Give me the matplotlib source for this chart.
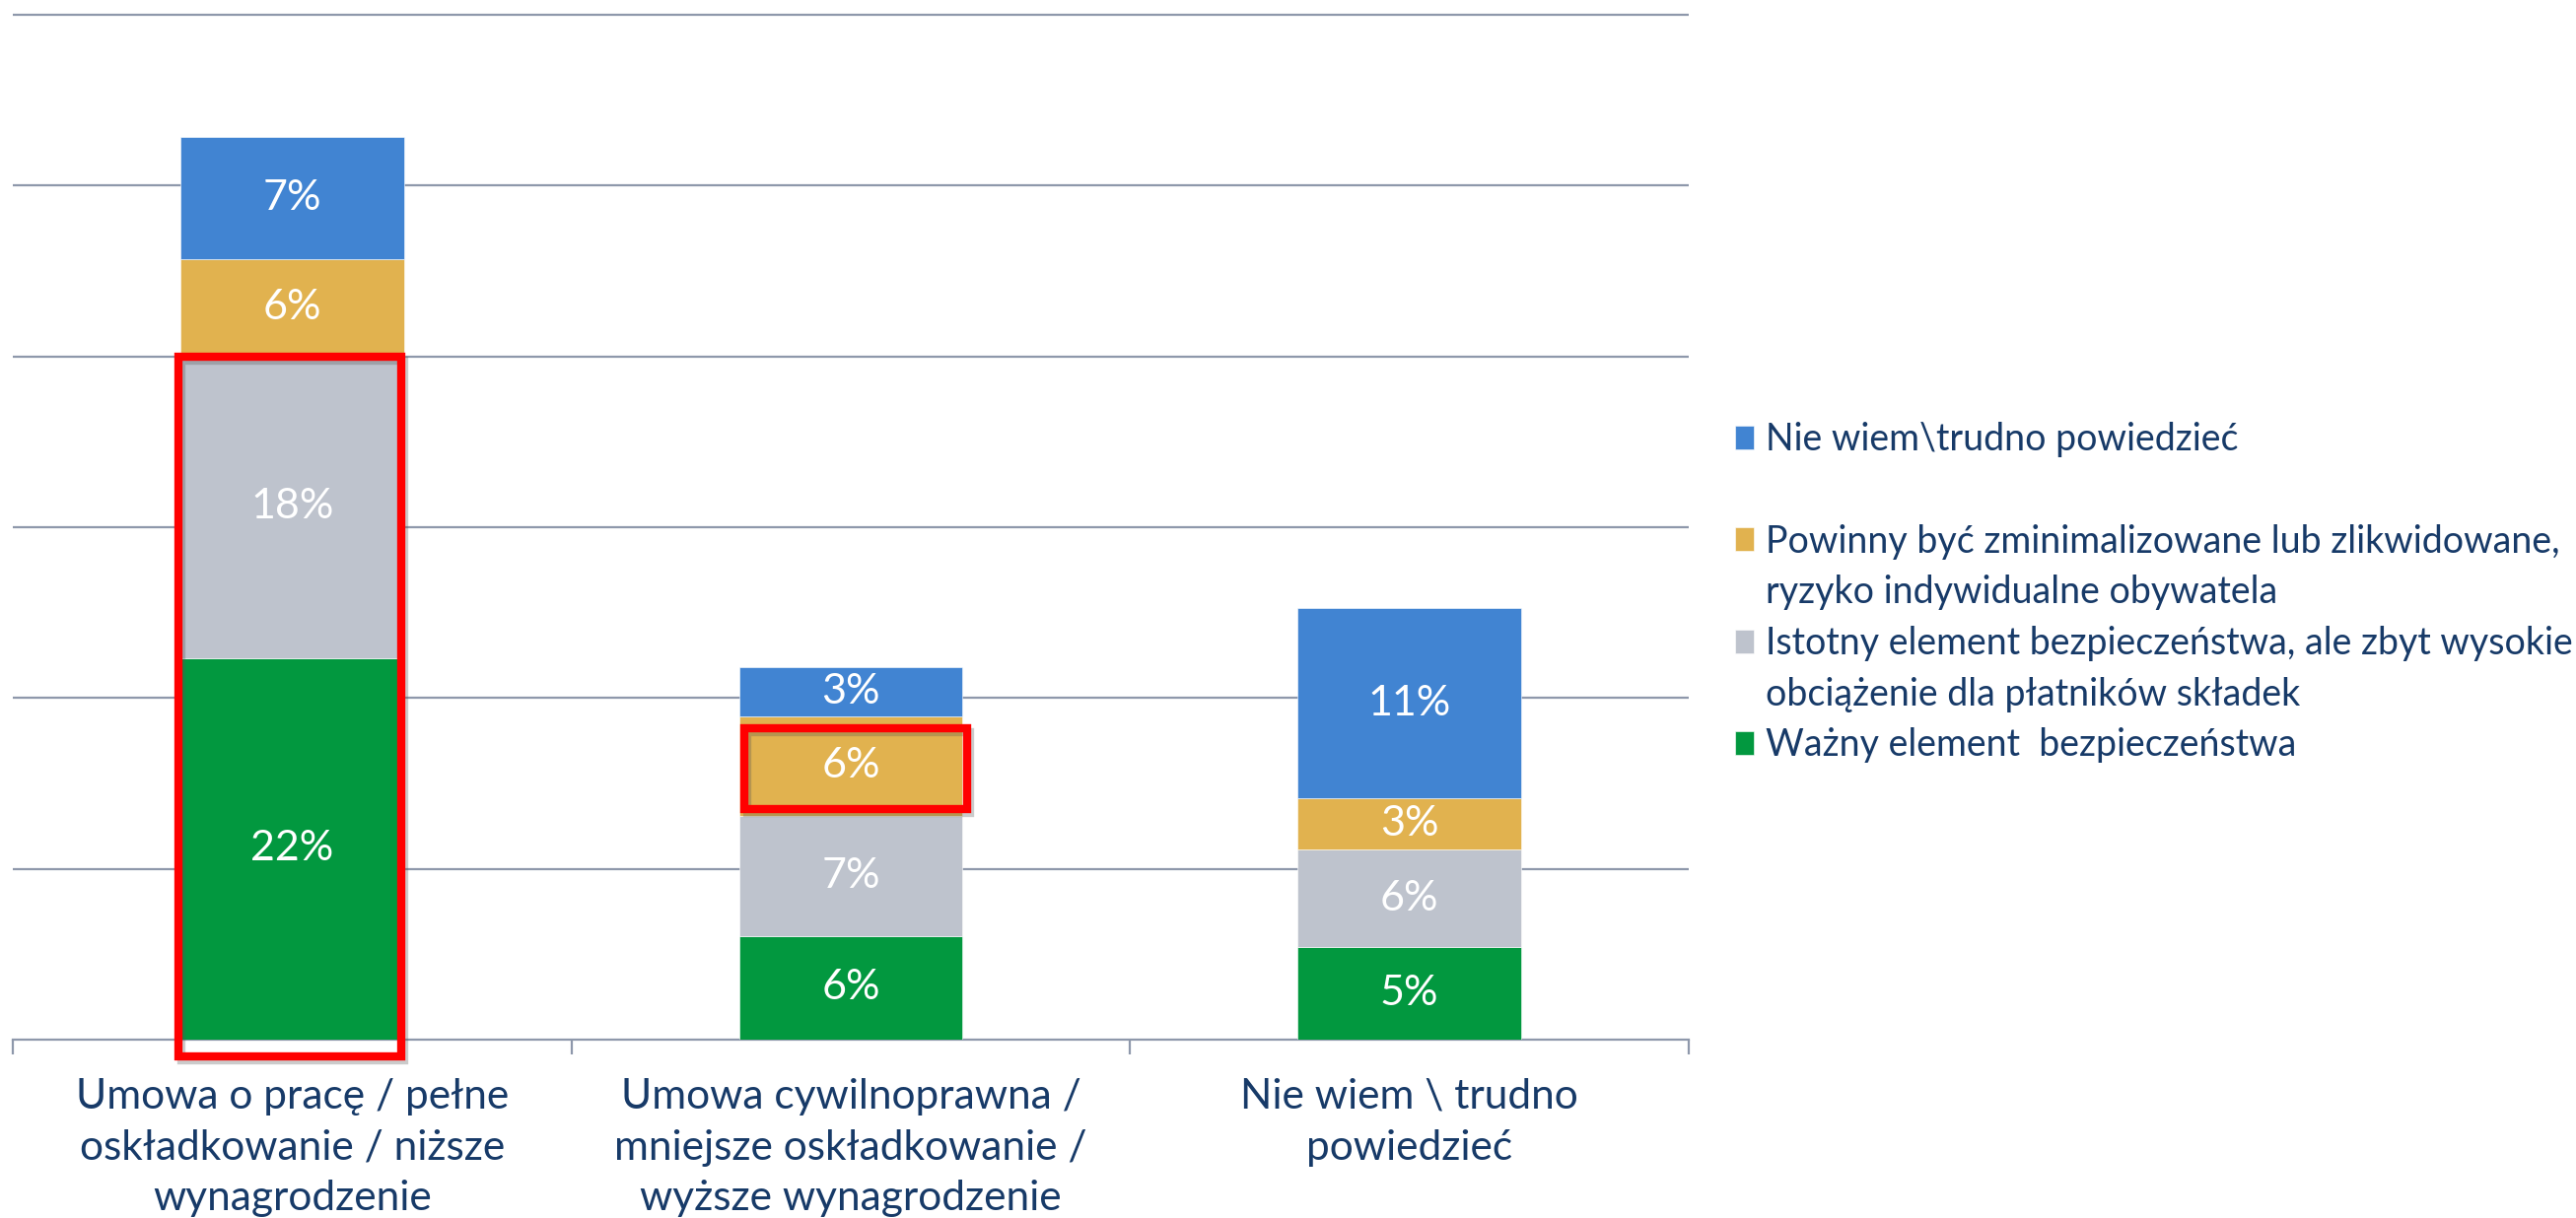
import matplotlib
matplotlib.use('Agg')
import matplotlib.pyplot as plt
from matplotlib.patches import Rectangle
from matplotlib.transforms import offset_copy
import numpy as np

plt.rcParams['font.family'] = ['Lato', 'DejaVu Sans']

# data (percent)
categories = ['Umowa o pracę / pełne\noskładkowanie / niższe\nwynagrodzenie',
              'Umowa cywilnoprawna /\nmniejsze oskładkowanie /\nwyższe wynagrodzenie',
              'Nie wiem \\ trudno\npowiedzieć']
wazny = [22.35, 6.06, 5.42]
istotny = [17.75, 7.04, 5.70]
powinny = [5.60, 5.83, 3.02]
nie_wiem = [7.17, 2.88, 11.12]

series_names = ['Ważny element  bezpieczeństwa',
                'Istotny element bezpieczeństwa, ale zbyt wysokie\nobciążenie dla płatników składek',
                'Powinny być zminimalizowane lub zlikwidowane,\nryzyko indywidualne obywatela',
                'Nie wiem\\trudno powiedzieć']
colors = ['#02983F', '#BEC3CD', '#E1B24F', '#4184D2']
text_col = '#173A68'
grid_col = '#8E98AB'

fig = plt.figure(figsize=(26.13, 12.36), dpi=100)
ax = fig.add_axes([13 / 2613, 1 - 1055 / 1236, 1700 / 2613, (1055 - 6.5) / 1236])

x = np.arange(len(categories))
width = 0.4
bottom = np.zeros(len(categories))
containers = []
for vals, name, c in zip([wazny, istotny, powinny, nie_wiem], series_names, colors):
    bars = ax.bar(x, vals, width, bottom=bottom, color=c, label=name,
                  edgecolor='white', linewidth=0.4, zorder=3)
    ax.bar_label(bars, labels=['{:.0f}%'.format(v) for v in vals],
                 label_type='center', color='white', fontsize=31, zorder=6)
    containers.append(bars)
    bottom = bottom + np.array(vals)

ax.set_xlim(-0.5, 2.5)
ax.set_ylim(0, 60.5)
ax.set_yticks(np.arange(10, 61, 10))
ax.yaxis.grid(True, color=grid_col, linewidth=1.6, zorder=0)
ax.tick_params(axis='y', left=False, labelleft=False)
for s in ['top', 'left', 'right']:
    ax.spines[s].set_visible(False)
ax.spines['bottom'].set_color(grid_col)
ax.spines['bottom'].set_linewidth(1.6)

ax.set_xticks(x)
ax.set_xticklabels(categories, fontsize=30.5, color=text_col, linespacing=1.44)
ax.tick_params(axis='x', which='major', length=0, pad=28)
ax.set_xticks([-0.5, 0.5, 1.5, 2.5], minor=True)
ax.tick_params(axis='x', which='minor', length=11, width=1.6, color=grid_col)

# red highlight boxes with a soft grey shadow
cum1 = wazny[0] + istotny[0]
low2 = wazny[1] + istotny[1]
boxes = [(x[0] - width / 2 - 0.004, -1.0, width, cum1 + 0.9),
         (x[1] - width / 2 + 0.009, low2 + 0.4, width, powinny[1] - 1.1)]
shadow_tr = offset_copy(ax.transData, fig=fig, x=2, y=-3, units='points')
for bx, by, bw, bh in boxes:
    ax.add_patch(Rectangle((bx, by), bw, bh, fill=False, edgecolor='#555555',
                           alpha=0.3, linewidth=6, zorder=4, clip_on=False,
                           transform=shadow_tr))
    ax.add_patch(Rectangle((bx, by), bw, bh, fill=False, edgecolor='#FF0000',
                           linewidth=6, zorder=5, clip_on=False))

# legend, one row per text line, blank row after the first entry
handles, labels = [], []
blank = Rectangle((0, 0), 1, 1, fill=False, edgecolor='none')
for bars, name in zip(containers[::-1], series_names[::-1]):
    lines = name.split('\n')
    handles.append(bars.patches[0])
    labels.append(lines[0])
    for ln in lines[1:]:
        handles.append(blank)
        labels.append(ln)
    if name == series_names[-1]:
        handles.append(blank)
        labels.append(' ')
leg = fig.legend(handles, labels, loc='upper left',
                 bbox_to_anchor=(1760 / 2613, 1 - 428 / 1236),
                 frameon=False, fontsize=27, labelcolor=text_col,
                 handlelength=0.5, handleheight=0.6, handletextpad=0.33,
                 labelspacing=0.42, borderpad=0, borderaxespad=0)

fig.savefig('out.png', dpi=100, facecolor='white')
